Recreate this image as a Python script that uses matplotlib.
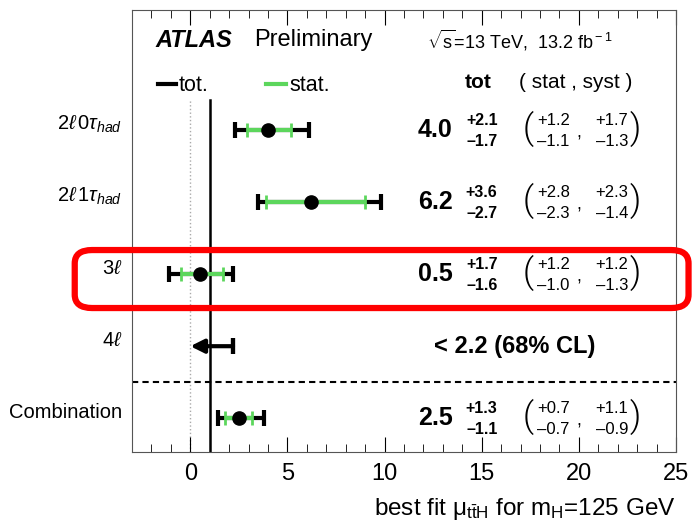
import matplotlib
matplotlib.use('Agg')
import matplotlib.pyplot as plt
from matplotlib.patches import FancyBboxPatch
import numpy as np

plt.rcParams['font.family'] = ['Liberation Sans', 'DejaVu Sans']
plt.rcParams['mathtext.fontset'] = 'custom'
plt.rcParams['mathtext.rm'] = 'Liberation Sans'
plt.rcParams['mathtext.it'] = 'Liberation Sans:italic'
plt.rcParams['mathtext.bf'] = 'Liberation Sans:bold'

# channel results (best fit mu_ttH)
channels = [r'2$\ell\,$0$\tau_{had}$', r'2$\ell\,$1$\tau_{had}$', r'3$\ell$', r'4$\ell$', 'Combination']
ypos = [5, 4, 3, 2, 1]
mu = [4.0, 6.2, 0.5, np.nan, 2.5]
tot_up = [2.1, 3.6, 1.7, np.nan, 1.3]
tot_dn = [1.7, 2.7, 1.6, np.nan, 1.1]
stat_up = [1.2, 2.8, 1.2, np.nan, 0.7]
stat_dn = [1.1, 2.3, 1.0, np.nan, 0.7]
syst_up = [1.7, 2.3, 1.2, np.nan, 1.1]
syst_dn = [1.3, 1.4, 1.3, np.nan, 0.9]
limit_4l = 2.2

green = '#5cd65c'

fig = plt.figure(figsize=(6.92, 5.32), dpi=100)
ax = fig.add_axes([0.1908, 0.1504, 0.7861, 0.8306])
ax.set_xlim(-3, 25)
ax.set_ylim(0.53, 6.67)

# SM line and zero line
ax.plot([1, 1], [0.53, 5.42], color='black', lw=1.8, zorder=1)
ax.plot([0, 0], [0.53, 5.42], color='#aaaaaa', lw=1, ls=':', zorder=1)
ax.axhline(1.5, color='black', lw=1.5, ls=(0, (3, 2)))

for i in range(len(channels)):
    y = ypos[i]
    if np.isnan(mu[i]):
        continue
    ax.errorbar(mu[i], y, xerr=[[tot_dn[i]], [tot_up[i]]], fmt='none', ecolor='black',
                elinewidth=3, capsize=6, capthick=3, zorder=2)
    ax.errorbar(mu[i], y, xerr=[[stat_dn[i]], [stat_up[i]]], fmt='none', ecolor=green,
                elinewidth=3, capsize=5, capthick=2, zorder=3)
    ax.plot(mu[i], y, 'o', color='black', ms=9.5, zorder=4)

# 4l upper limit
ax.annotate('', xy=(0, 2), xytext=(limit_4l, 2),
            arrowprops=dict(arrowstyle='-|>', lw=3, color='black',
                            mutation_scale=20, shrinkA=0, shrinkB=0))
ax.errorbar(limit_4l, 2, xerr=0.001, fmt='none', ecolor='black', capsize=6, capthick=3)

# channel labels
for i, lab in enumerate(channels):
    ax.text(-3.5, ypos[i] + 0.08, lab, ha='right', va='center', fontsize=14.5, clip_on=False)

# numbers
paren = dict(ha='center', va='center', fontsize=25, family=['Roboto', 'DejaVu Sans'], fontweight=300)
for i in range(len(channels)):
    y = ypos[i]
    if np.isnan(mu[i]):
        ax.text(16.7, y, '< %.1f (68%% CL)' % limit_4l, ha='center', va='center',
                fontsize=17, fontweight='bold')
        continue
    ax.text(13.5, y, '%.1f' % mu[i], ha='right', va='center', fontsize=18, fontweight='bold')
    ax.text(15.0, y + 0.14, '+%.1f' % tot_up[i], ha='center', va='center', fontsize=11.5, fontweight='bold')
    ax.text(15.0, y - 0.16, '\u2013%.1f' % tot_dn[i], ha='center', va='center', fontsize=11.5, fontweight='bold')
    ax.text(17.4, y + 0.02, '(', **paren)
    ax.text(18.7, y + 0.14, '+%.1f' % stat_up[i], ha='center', va='center', fontsize=12)
    ax.text(18.7, y - 0.16, '\u2013%.1f' % stat_dn[i], ha='center', va='center', fontsize=12)
    ax.text(20.0, y - 0.04, ',', ha='center', va='center', fontsize=13)
    ax.text(21.7, y + 0.14, '+%.1f' % syst_up[i], ha='center', va='center', fontsize=12)
    ax.text(21.7, y - 0.16, '\u2013%.1f' % syst_dn[i], ha='center', va='center', fontsize=12)
    ax.text(22.9, y + 0.02, ')', **paren)

# header
ax.text(-1.8, 6.25, 'ATLAS', fontsize=17, fontweight='bold', style='italic', va='center')
ax.text(3.3, 6.25, 'Preliminary', fontsize=17, va='center')
ax.text(12.2, 6.25, r'$\sqrt{\rm s}$=13 TeV,  13.2 fb$^{\rm -1}$', fontsize=13, va='center')

# legend
ax.plot([-1.65, -0.75], [5.64, 5.64], color='black', lw=3)
ax.text(-0.6, 5.62, 'tot.', fontsize=15.5, va='center')
ax.plot([3.9, 4.9], [5.64, 5.64], color=green, lw=3)
ax.text(5.1, 5.62, 'stat.', fontsize=15.5, va='center')
ax.text(14.8, 5.66, 'tot', fontsize=15, fontweight='bold', ha='center', va='center')
ax.text(16.9, 5.66, '( stat , syst )', fontsize=15, va='center')

# axes styling
ax.set_yticks([])
ax.xaxis.set_major_locator(plt.MultipleLocator(5))
ax.xaxis.set_minor_locator(plt.MultipleLocator(1))
ax.tick_params(axis='x', which='both', direction='in', top=True, labelsize=17, pad=8)
ax.tick_params(axis='x', which='major', length=11)
ax.tick_params(axis='x', which='minor', length=6)
for sp in ax.spines.values():
    sp.set_color('#555555')

ax.set_xlabel(r'best fit $\mathrm{\mu}_{\mathrm{t\bar{t}H}}$ for m$_{\rm H}$=125 GeV', fontsize=17.5,
              loc='right', labelpad=8)

# highlight box around the 3l row
box = FancyBboxPatch((0.108, 0.421), 0.887, 0.109, boxstyle='round,pad=0.0,rounding_size=0.025',
                     transform=fig.transFigure, fill=False, edgecolor='#ff0000', lw=4.5, zorder=10)
fig.patches.append(box)

fig.savefig('out.png', dpi=100)
